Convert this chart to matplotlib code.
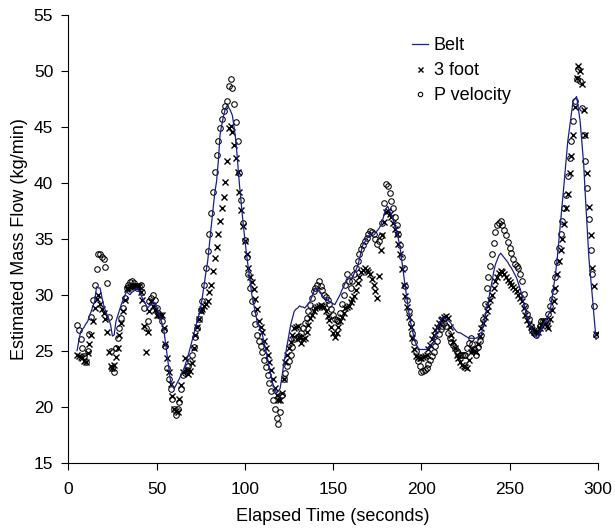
import matplotlib

matplotlib.use("Agg")
import matplotlib.pyplot as plt
import numpy as np

# elapsed time (s), one reading per second
time_s = np.arange(5, 300)

belt = [
    25.0, 25.9, 26.7, 26.9, 27.1, 27.4, 27.6, 28.1, 28.5, 29.0,
    29.4, 30.7, 30.6, 30.6, 29.8, 29.1, 28.6, 28.2, 27.8, 27.3,
    26.3, 26.4, 27.6, 28.1, 28.6, 29.1, 29.5, 29.9, 30.3, 30.1,
    30.0, 30.2, 30.3, 30.5, 30.6, 30.3, 30.0, 29.7, 29.4, 29.1,
    28.8, 29.0, 29.1, 29.3, 29.3, 28.9, 28.5, 28.0, 27.5, 27.0,
    25.8, 24.6, 23.4, 22.2, 21.9, 21.6, 21.9, 22.2, 22.5, 22.9,
    23.2, 23.6, 24.1, 24.6, 25.2, 25.8, 26.4, 27.0, 27.6, 28.2,
    28.8, 29.8, 30.9, 32.0, 33.0, 34.6, 36.1, 37.6, 39.1, 40.1,
    41.9, 44.3, 45.2, 46.0, 46.6, 46.9, 46.7, 46.4, 46.0, 44.9,
    43.7, 41.7, 39.8, 38.1, 36.5, 35.0, 33.6, 32.4, 31.2, 30.0,
    29.2, 28.4, 27.6, 27.2, 26.8, 26.4, 25.7, 25.0, 24.2, 23.4,
    22.6, 22.0, 21.6, 21.2, 21.4, 21.6, 22.6, 23.7, 24.6, 25.5,
    26.4, 27.3, 27.9, 28.5, 28.7, 28.8, 29.0, 28.9, 28.9, 28.8,
    29.0, 29.2, 29.4, 29.8, 30.2, 30.6, 30.5, 30.3, 30.1, 29.9,
    29.7, 29.6, 29.5, 29.4, 29.3, 29.2, 29.1, 29.4, 29.7, 30.0,
    30.4, 30.7, 31.1, 31.5, 31.5, 31.5, 31.5, 31.9, 32.2, 32.6,
    33.2, 33.9, 34.5, 34.7, 35.0, 35.2, 35.4, 35.5, 35.6, 35.6,
    35.7, 35.9, 36.2, 36.6, 37.2, 37.7, 37.9, 37.5, 37.2, 36.7,
    36.2, 35.7, 35.0, 34.2, 33.0, 31.8, 30.6, 29.5, 28.4, 27.5,
    26.8, 26.1, 25.6, 25.3, 25.1, 25.1, 25.1, 25.1, 25.1, 25.3,
    25.5, 25.6, 25.8, 26.4, 27.0, 27.4, 27.7, 28.0, 27.9, 27.8,
    27.7, 27.6, 27.4, 27.1, 26.9, 26.7, 26.6, 26.6, 26.5, 26.4,
    26.3, 26.2, 26.1, 26.1, 26.1, 26.1, 26.1, 26.2, 26.3, 26.4,
    27.2, 27.9, 28.7, 29.4, 30.3, 31.1, 32.0, 32.7, 33.1, 33.5,
    33.7, 33.5, 33.3, 33.1, 32.9, 32.6, 32.4, 32.1, 31.8, 31.5,
    31.0, 30.5, 30.0, 29.3, 28.6, 28.0, 27.6, 27.2, 26.7, 26.5,
    26.3, 26.1, 26.5, 26.9, 27.3, 27.6, 27.9, 28.2, 28.5, 29.6,
    30.7, 31.8, 33.2, 34.9, 36.6, 38.3, 40.1, 41.9, 43.7, 44.9,
    46.1, 47.3, 47.5, 47.7, 46.6, 45.5, 43.6, 41.7, 38.7, 35.9,
    33.2, 31.5, 29.7, 27.9, 26.0,
]

three_foot = [
    24.6, 24.5, 24.4, 24.3, 24.1, 24.0, 24.8, 25.6, 26.4, 27.6,
    28.8, 29.6, 30.0, 29.2, 28.7, 28.4, 27.8, 26.7, 24.9, 23.6,
    23.4, 23.7, 24.4, 25.2, 26.4, 27.5, 28.5, 29.5, 30.5, 30.6,
    30.7, 30.8, 30.8, 30.8, 30.8, 30.8, 30.2, 29.5, 27.2, 24.9,
    26.7, 28.5, 29.4, 29.0, 28.6, 28.2, 28.2, 28.2, 28.2, 27.0,
    25.6, 24.3, 23.1, 22.0, 20.9, 19.8, 19.6, 19.5, 20.7, 21.9,
    23.1, 24.3, 23.3, 22.9, 23.2, 23.9, 25.2, 26.4, 27.1, 27.8,
    28.5, 28.7, 29.0, 29.2, 29.4, 30.2, 30.9, 32.1, 33.3, 34.3,
    35.4, 36.6, 37.7, 38.7, 40.1, 41.9, 44.9, 45.1, 44.5, 43.4,
    42.2, 41.0, 39.2, 37.6, 36.1, 34.8, 33.6, 32.4, 31.6, 31.1,
    30.5, 29.6, 28.7, 27.6, 27.1, 26.7, 25.9, 25.2, 24.6, 24.0,
    23.3, 22.5, 21.7, 21.0, 20.6, 20.6, 21.2, 22.5, 24.0, 24.6,
    25.2, 25.8, 26.4, 27.0, 27.1, 27.2, 26.2, 25.7, 26.0, 26.1,
    26.7, 27.3, 27.9, 28.2, 28.5, 28.8, 28.9, 29.0, 29.1, 29.0,
    28.9, 28.5, 28.1, 27.7, 27.1, 26.6, 26.2, 26.6, 27.1, 27.6,
    28.0, 28.4, 28.8, 28.9, 29.0, 29.3, 29.6, 29.9, 30.4, 31.0,
    31.6, 32.0, 32.2, 32.4, 32.2, 32.0, 31.8, 31.4, 30.9, 30.3,
    29.7, 31.7, 34.0, 35.3, 36.5, 37.4, 37.5, 37.2, 36.9, 36.4,
    35.9, 35.4, 34.5, 33.6, 32.3, 30.9, 29.9, 28.9, 28.0, 27.1,
    26.1, 25.1, 24.5, 24.4, 24.3, 24.3, 24.4, 24.5, 24.6, 25.1,
    25.5, 26.0, 26.4, 26.8, 27.1, 27.5, 27.7, 27.8, 28.0, 28.1,
    27.9, 27.1, 26.4, 25.8, 25.2, 24.6, 24.3, 24.0, 23.7, 23.6,
    23.5, 23.4, 24.2, 24.9, 25.1, 25.0, 24.9, 25.6, 26.3, 27.0,
    27.5, 28.0, 28.5, 29.0, 29.5, 30.0, 30.6, 31.2, 31.6, 31.9,
    32.1, 32.0, 31.8, 31.6, 31.3, 31.1, 30.9, 30.7, 30.5, 30.3,
    30.0, 29.7, 29.4, 28.8, 28.2, 27.7, 27.4, 27.1, 26.8, 26.7,
    26.7, 26.7, 27.0, 27.3, 27.6, 27.4, 27.2, 27.0, 27.8, 28.6,
    29.4, 30.6, 31.8, 33.0, 34.0, 35.0, 36.3, 37.7, 39.0, 40.9,
    42.4, 44.3, 46.8, 49.4, 50.4, 50.0, 48.8, 46.5, 44.3, 40.9,
    37.8, 35.3, 32.4, 30.8, 26.5,
]

p_velocity = [
    27.3, 26.8, 26.0, 25.2, 24.5, 24.0, 25.0, 26.5, 28.0, 29.5,
    30.9, 32.3, 33.6, 33.6, 33.4, 33.2, 32.5, 31.0, 28.0, 25.0,
    23.4, 23.1, 25.2, 26.1, 27.0, 27.9, 28.8, 29.7, 30.6, 30.9,
    31.1, 31.2, 31.0, 30.8, 30.6, 30.8, 30.9, 30.2, 28.8, 27.0,
    27.6, 29.4, 29.7, 30.0, 29.5, 28.8, 28.4, 28.1, 27.6, 26.8,
    25.4, 23.4, 22.5, 21.6, 20.7, 19.8, 19.2, 19.8, 20.4, 21.6,
    22.8, 23.0, 23.3, 23.6, 24.1, 24.6, 25.3, 26.2, 27.0, 27.8,
    28.6, 29.4, 30.9, 32.4, 33.9, 35.4, 37.3, 39.2, 41.0, 42.5,
    43.7, 44.9, 45.7, 46.4, 46.9, 47.3, 48.6, 49.3, 48.5, 47.0,
    45.4, 43.7, 40.9, 38.5, 36.4, 34.9, 33.4, 31.8, 30.6, 29.4,
    28.4, 27.4, 26.4, 25.9, 25.4, 24.9, 24.2, 23.5, 22.8, 22.1,
    21.4, 20.6, 19.8, 19.0, 18.4, 19.5, 21.0, 22.5, 23.0, 23.6,
    24.1, 24.6, 25.3, 26.0, 26.1, 26.2, 26.3, 26.6, 27.0, 27.5,
    27.9, 28.5, 29.1, 29.7, 30.3, 30.6, 30.9, 31.2, 30.8, 30.4,
    30.0, 29.8, 29.5, 29.2, 28.7, 28.2, 27.8, 27.7, 27.6, 28.4,
    29.2, 30.0, 30.9, 31.8, 31.2, 30.6, 31.2, 31.8, 32.4, 33.0,
    33.6, 34.1, 34.4, 34.8, 35.1, 35.4, 35.7, 35.6, 35.4, 35.0,
    34.5, 34.8, 35.2, 36.4, 38.2, 39.9, 39.7, 39.1, 38.4, 37.7,
    36.9, 36.2, 35.4, 34.4, 33.4, 32.4, 30.8, 29.5, 28.5, 27.5,
    26.6, 25.8, 25.0, 24.1, 23.6, 23.1, 23.2, 23.3, 23.4, 23.8,
    24.2, 24.5, 24.9, 25.4, 25.9, 26.5, 26.9, 27.2, 27.5, 27.2,
    26.6, 26.1, 25.8, 25.5, 25.2, 25.0, 24.8, 24.6, 24.6, 24.6,
    24.6, 25.2, 25.7, 26.1, 25.6, 25.1, 24.6, 25.3, 25.9, 26.4,
    27.8, 29.2, 30.6, 31.6, 32.6, 33.6, 34.6, 35.6, 36.2, 36.4,
    36.6, 36.2, 35.8, 35.3, 34.7, 34.2, 33.7, 33.2, 32.7, 32.6,
    32.4, 31.8, 31.2, 30.1, 29.0, 28.3, 27.8, 27.2, 26.8, 26.6,
    26.4, 26.8, 27.2, 27.6, 27.6, 27.6, 27.6, 28.3, 29.0, 29.6,
    30.3, 31.6, 32.9, 34.2, 35.4, 36.6, 37.7, 38.9, 40.6, 42.2,
    43.7, 45.5, 47.3, 49.3, 50.2, 49.1, 46.7, 44.3, 41.9, 39.5,
    36.8, 34.0, 31.8, 29.0, 26.4,
]

plt.rcParams["font.family"] = ["Liberation Sans", "DejaVu Sans"]

fig = plt.figure(figsize=(6.15, 5.31), dpi=100)
ax = fig.add_axes([0.111, 0.129, 0.861, 0.843])

ax.plot(time_s, three_foot, linestyle="none", marker="x", color="black",
        markersize=4.5, markeredgewidth=1.0, label="3 foot", zorder=2)
ax.plot(time_s, p_velocity, linestyle="none", marker="o", markersize=4,
        markerfacecolor="none", markeredgecolor="black", markeredgewidth=0.75,
        label="P velocity", zorder=3)
ax.plot(time_s, belt, color="#1c1c9a", linewidth=0.9, label="Belt", zorder=4)

ax.set_xlim(0, 300)
ax.set_ylim(15, 55)
ax.set_xticks(np.arange(0, 301, 50))
ax.set_yticks(np.arange(15, 56, 5))
ax.spines["top"].set_visible(False)
ax.spines["right"].set_visible(False)
ax.tick_params(direction="out", length=5, width=0.8, labelsize=12.5)
ax.tick_params(axis="x", pad=9)
ax.tick_params(axis="y", pad=5.8)
ax.set_xlabel("Elapsed Time (seconds)", fontsize=13, labelpad=8)
ax.set_ylabel("Estimated Mass Flow (kg/min)", fontsize=13, labelpad=4)

h, l = ax.get_legend_handles_labels()
order = [2, 0, 1]
ax.legend([h[i] for i in order], [l[i] for i in order],
          loc="upper left", bbox_to_anchor=(412 / 615, 1 - 37 / 531),
          bbox_transform=fig.transFigure, frameon=False, fontsize=13,
          handlelength=0.9, handletextpad=0.3, labelspacing=0.45,
          borderpad=0, borderaxespad=0, markerscale=0.8)

fig.savefig("out.png", dpi=100)
